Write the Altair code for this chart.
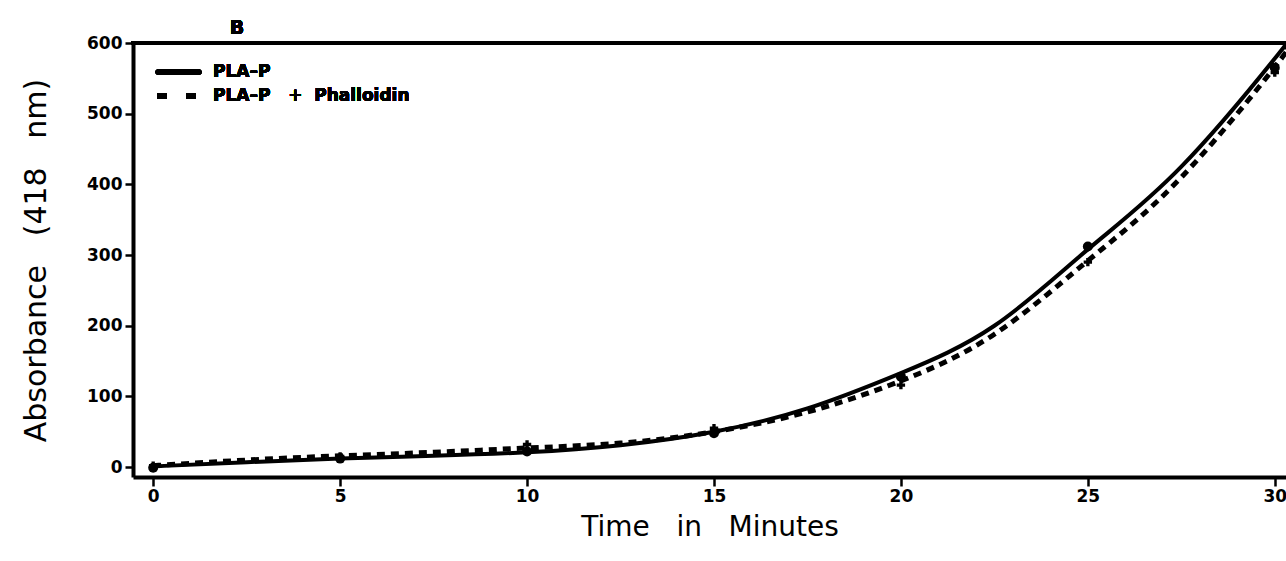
import altair as alt
import pandas as pd

# Fitted curves
curve_t = [0, 2.5, 5, 7.5, 10, 12.5, 15, 17.5, 20, 22.5, 25, 27.5, 30, 30.3]
curve_plap = [1, 7, 12, 16, 21, 31, 50, 83, 133, 200, 308, 425, 578, 600]
curve_phall = [2, 10, 16, 21, 27, 34, 50, 78, 122, 188, 292, 410, 566, 590]

# Measured points
pts_t = [0, 5, 10, 15, 20, 25, 30]
pts_plap = [-1, 12, 22, 48, 128, 312, 565]
pts_phall = [2, 15, 32, 55, 116, 290, 558]

x_ticks = [0, 5, 10, 15, 20, 25, 30]
y_ticks = [0, 100, 200, 300, 400, 500, 600]

W, H = 1153, 434
FONT = "DejaVu Sans"
NB = "\u00a0"

curves = pd.DataFrame({"t": curve_t, "plap": curve_plap, "phall": curve_phall})
pts = pd.DataFrame({"t": pts_t, "plap": pts_plap, "phall": pts_phall})

xscale = alt.Scale(domain=[-0.54, 30.3], nice=False, zero=False)
yscale = alt.Scale(domain=[-14, 600], nice=False, zero=False)

xaxis = alt.Axis(values=x_ticks, title=f"Time{NB*3}in{NB*3}Minutes", grid=False,
                 domainColor="black", domainWidth=4, tickColor="black", tickWidth=2.5,
                 tickSize=9, labelFont=FONT, labelFontWeight="bold", labelFontSize=17,
                 labelColor="black", labelPadding=2, titleFont=FONT, titleFontSize=28,
                 titleFontWeight="normal", titleColor="black", titlePadding=9)
yaxis = alt.Axis(values=y_ticks, title=f"Absorbance{NB*3}(418{NB*3}nm)", grid=False,
                 domainColor="black", domainWidth=4, tickColor="black", tickWidth=2.5,
                 tickSize=8, labelFont=FONT, labelFontWeight="bold", labelFontSize=17,
                 labelColor="black", labelPadding=3, titleFont=FONT, titleFontSize=30,
                 titleFontWeight="normal", titleColor="black", titlePadding=35)

base = alt.Chart(curves)

solid = base.mark_line(color="black", strokeWidth=4, interpolate="natural", clip=True).encode(
    x=alt.X("t:Q", scale=xscale, axis=xaxis),
    y=alt.Y("plap:Q", scale=yscale, axis=yaxis),
)
dashed = base.mark_line(color="black", strokeWidth=5, strokeDash=[8, 6],
                        interpolate="natural", clip=True).encode(
    x=alt.X("t:Q", scale=xscale),
    y=alt.Y("phall:Q", scale=yscale),
)
circles = alt.Chart(pts).mark_point(shape="circle", filled=True, color="black", size=100, opacity=1).encode(
    x=alt.X("t:Q", scale=xscale),
    y=alt.Y("plap:Q", scale=yscale),
)
crosses = alt.Chart(pts).mark_point(shape="cross", filled=True, color="black", size=70, opacity=1).encode(
    x=alt.X("t:Q", scale=xscale),
    y=alt.Y("phall:Q", scale=yscale),
)

top_rule = alt.Chart(curves).mark_rule(color="black", strokeWidth=4).encode(
    x=alt.value(-2), x2=alt.value(W), y=alt.value(0)
)

# Legend
leg_solid = alt.Chart(curves).mark_rule(color="black", strokeWidth=5, strokeCap="round").encode(
    x=alt.value(25), x2=alt.value(66), y=alt.value(29)
)
leg_dash = alt.Chart(curves).mark_rule(color="black", strokeWidth=6, strokeDash=[10, 19]).encode(
    x=alt.value(24), x2=alt.value(66), y=alt.value(53)
)
leg_text1 = alt.Chart(curves).mark_text(text="PLA\u2013P", font=FONT, fontWeight="bold", fontSize=17,
                                         align="left", baseline="middle", color="black").encode(
    x=alt.value(80), y=alt.value(29)
)
leg_text2 = alt.Chart(curves).mark_text(text=f"PLA\u2013P{NB*3}+{NB*2}Phalloidin", font=FONT,
                                         fontWeight="bold", fontSize=17, align="left",
                                         baseline="middle", color="black").encode(
    x=alt.value(80), y=alt.value(53)
)
title_b = alt.Chart(curves).mark_text(text="B", font=FONT, fontWeight="bold", fontSize=19,
                                       align="center", baseline="middle", color="black").encode(
    x=alt.value(104), y=alt.value(-15)
)

chart = alt.layer(
    solid, dashed, circles, crosses, top_rule,
    leg_solid, leg_dash, leg_text1, leg_text2, title_b
).properties(
    width=W, height=H,
    autosize=alt.AutoSizeParams(type="none"),
    padding={"left": 133, "top": 43, "right": 0, "bottom": 84},
    background="white",
).configure_view(stroke=None)

chart.save("out.html", embed_options={"renderer": "svg", "actions": False})
